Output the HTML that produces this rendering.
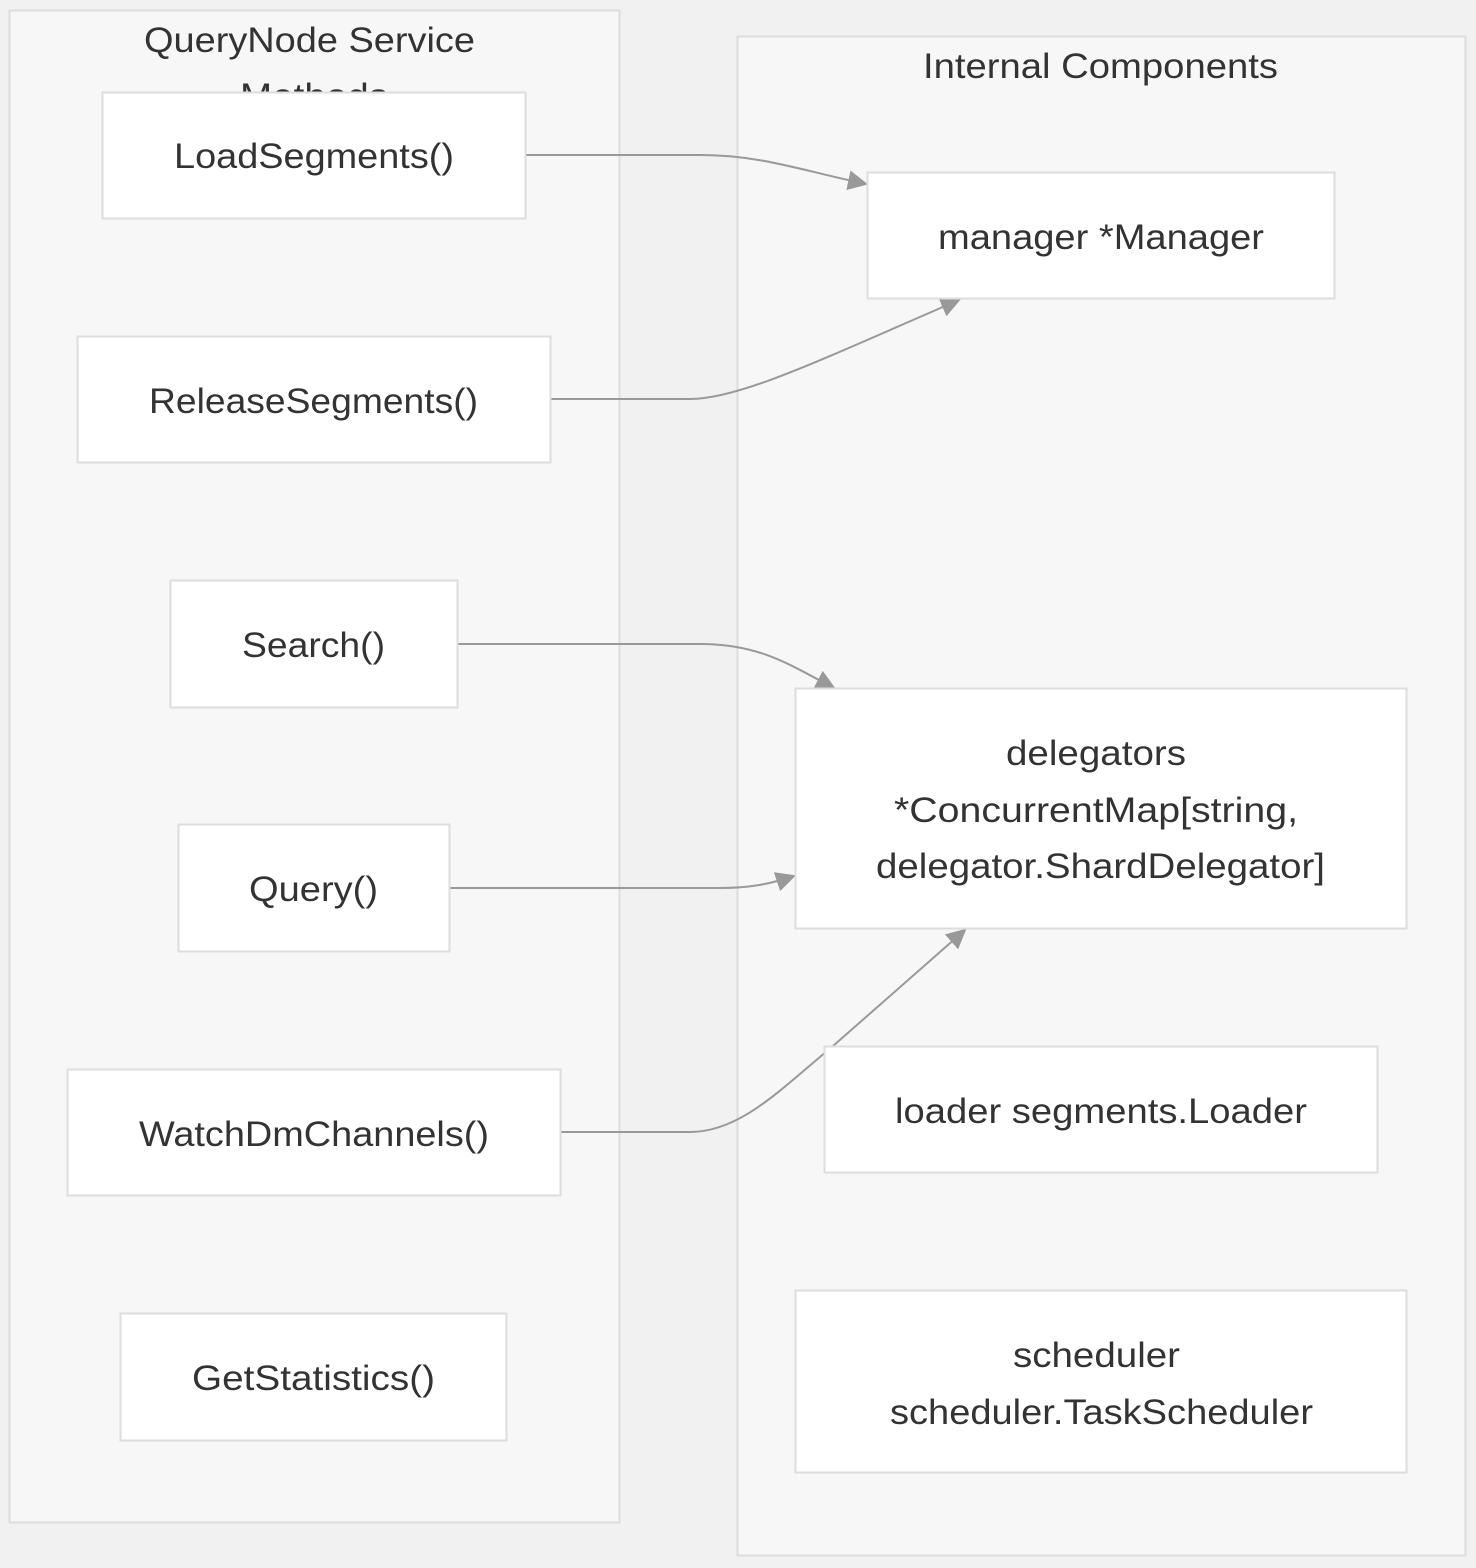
<!DOCTYPE html>
<html><head><meta charset="utf-8"><style>
html,body{margin:0;padding:0;background:#f1f1f1;}
svg{display:block;}
text{font-family:"Liberation Sans",sans-serif;fill:#333;}
</style></head><body>
<svg width="1476" height="1568" viewBox="0 0 1476 1568" xmlns="http://www.w3.org/2000/svg">
<defs>
<marker id="b" viewBox="0 0 10 10" refX="9" refY="5" markerWidth="20" markerHeight="20" markerUnits="userSpaceOnUse" orient="auto"><path d="M0,0L10,5L0,10z" fill="#999"/></marker>
</defs>
<rect x="9.5" y="10.5" width="610" height="1512" fill="#f7f7f7" stroke="#ddd" stroke-width="2"/>
<rect x="737.5" y="36.5" width="728" height="1519" fill="#f7f7f7" stroke="#ddd" stroke-width="2"/>
<g font-size="35" lengthAdjust="spacingAndGlyphs">
<text x="144" y="52" textLength="331" lengthAdjust="spacingAndGlyphs">QueryNode Service</text>
<text x="240" y="108" textLength="148" lengthAdjust="spacingAndGlyphs">Methods</text>
<text x="923" y="78" textLength="355" lengthAdjust="spacingAndGlyphs">Internal Components</text>
</g>
<g fill="none" stroke="#999" stroke-width="2">
<path d="M526,155 H700 C760,155 800,170 866,184" marker-end="url(#b)"/>
<path d="M551,399 H690 C740,399 820,360 959,300" marker-end="url(#b)"/>
<path d="M458,644 H700 C760,644 790,665 834,688" marker-end="url(#b)"/>
<path d="M450,888 H720 C750,888 770,884 794,876" marker-end="url(#b)"/>
<path d="M561,1132 H690 C740,1132 780,1090 833,1046 L965,930" marker-end="url(#b)"/>
</g>
<g fill="#fff" stroke="#ddd" stroke-width="2">
<rect x="102.5" y="92.5" width="423" height="126"/>
<rect x="77.5" y="336.5" width="473" height="126"/>
<rect x="170.5" y="580.5" width="287" height="127"/>
<rect x="178.5" y="824.5" width="271" height="127"/>
<rect x="67.5" y="1069.5" width="493" height="126"/>
<rect x="120.5" y="1313.5" width="386" height="127"/>
<rect x="867.5" y="172.5" width="467" height="126"/>
<rect x="795.5" y="688.5" width="611" height="240"/>
<rect x="824.5" y="1046.5" width="553" height="126"/>
<rect x="795.5" y="1290.5" width="611" height="182"/>
</g>
<g font-size="35">
<text x="174" y="168" textLength="280" lengthAdjust="spacingAndGlyphs">LoadSegments()</text>
<text x="149" y="413" textLength="329" lengthAdjust="spacingAndGlyphs">ReleaseSegments()</text>
<text x="242" y="657" textLength="143" lengthAdjust="spacingAndGlyphs">Search()</text>
<text x="249" y="901" textLength="129" lengthAdjust="spacingAndGlyphs">Query()</text>
<text x="139" y="1146" textLength="350" lengthAdjust="spacingAndGlyphs">WatchDmChannels()</text>
<text x="192" y="1390" textLength="243" lengthAdjust="spacingAndGlyphs">GetStatistics()</text>
<text x="938" y="249" textLength="326" lengthAdjust="spacingAndGlyphs">manager *Manager</text>
<text x="1006" y="765" textLength="180" lengthAdjust="spacingAndGlyphs">delegators</text>
<text x="894" y="822" textLength="404" lengthAdjust="spacingAndGlyphs">*ConcurrentMap[string,</text>
<text x="876" y="878" textLength="449" lengthAdjust="spacingAndGlyphs">delegator.ShardDelegator]</text>
<text x="895" y="1123" textLength="412" lengthAdjust="spacingAndGlyphs">loader segments.Loader</text>
<text x="1013" y="1367" textLength="167" lengthAdjust="spacingAndGlyphs">scheduler</text>
<text x="890" y="1424" textLength="423" lengthAdjust="spacingAndGlyphs">scheduler.TaskScheduler</text>
</g>
</svg>
</body></html>
